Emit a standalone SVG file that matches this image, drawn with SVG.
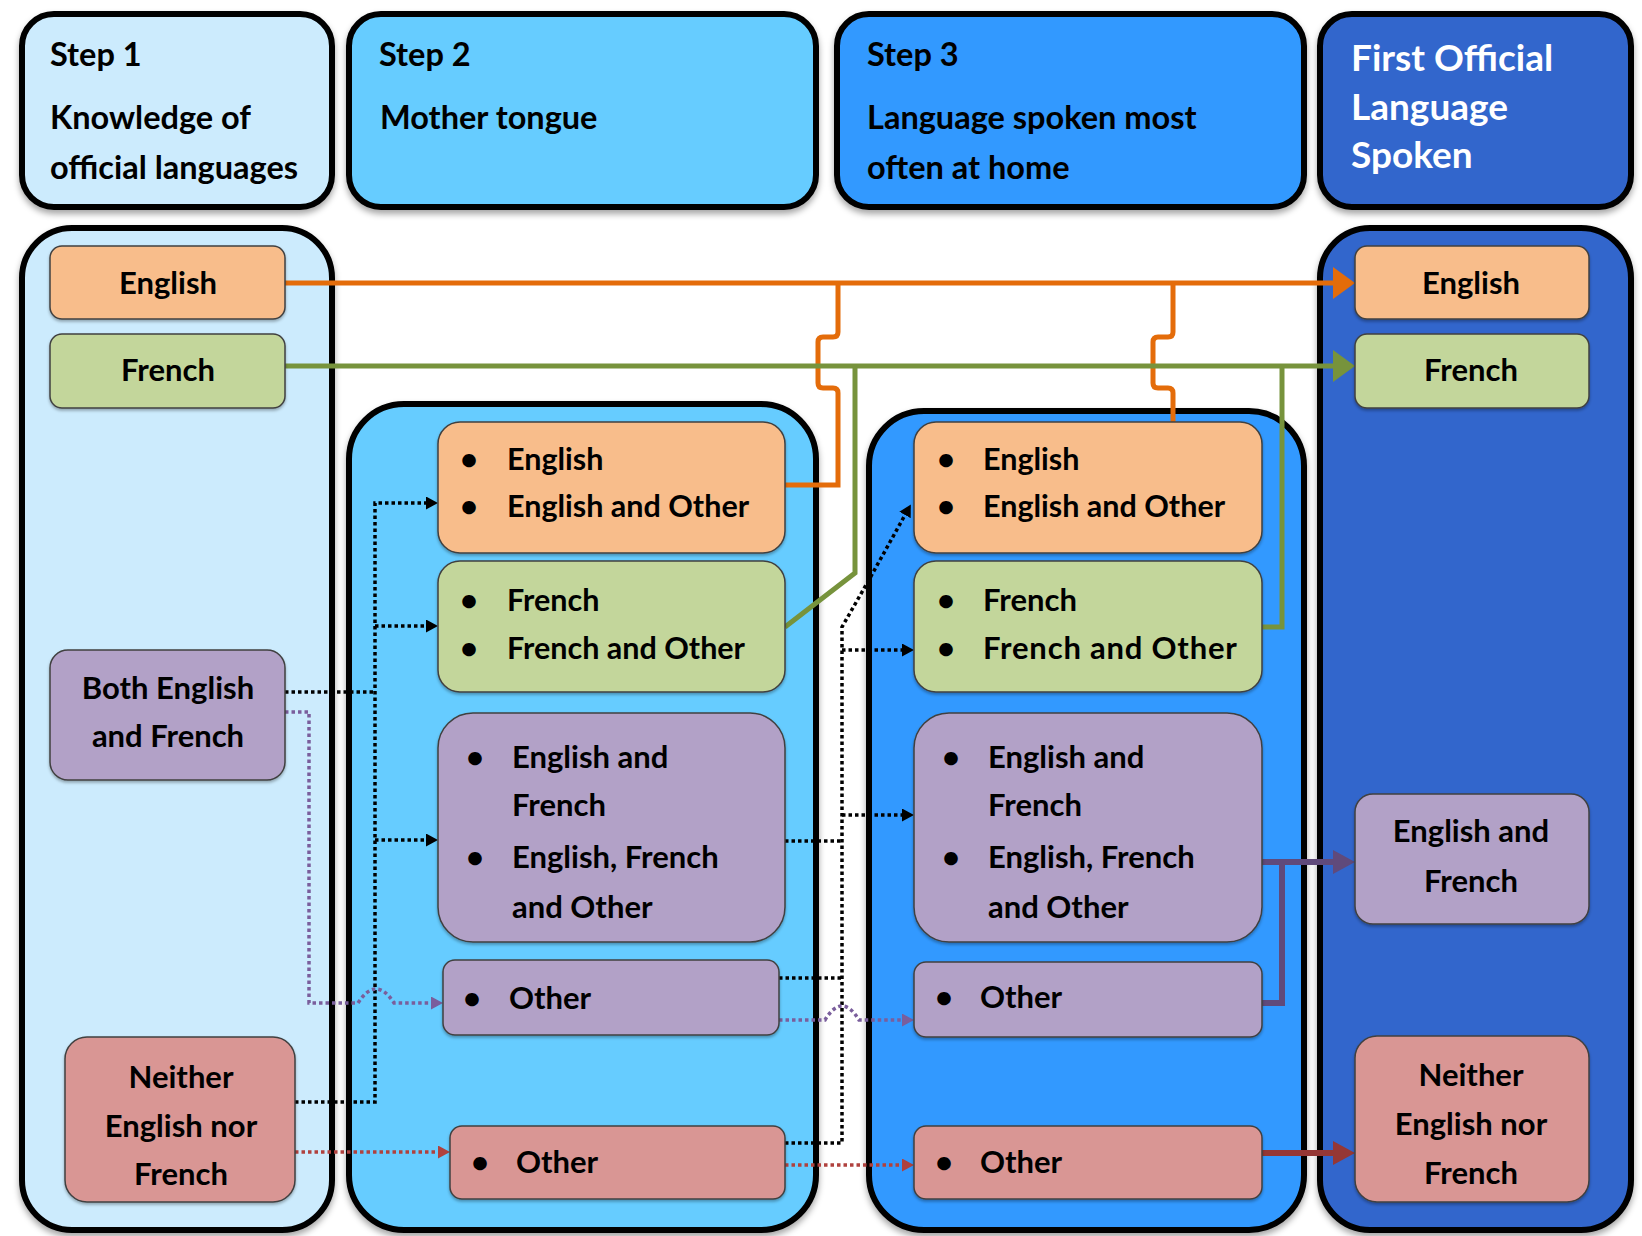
<svg xmlns="http://www.w3.org/2000/svg" width="1642" height="1236" viewBox="0 0 1642 1236">
<style>
.t{font-family:Lato,"Liberation Sans",sans-serif;font-weight:700;font-size:31px;fill:#000}
.b{font-size:30.5px}
.h{font-size:32.5px}
.w{fill:#fff;font-size:37px}
.m{text-anchor:middle}
.hd{stroke:#000;stroke-width:6}
.col{stroke:#000;stroke-width:6}
.nd{stroke:#404040;stroke-width:1.5}
.or{fill:#F8BD8B}.gr{fill:#C3D69B}.pu{fill:#B2A1C7}.rd{fill:#D99694}
.ln{fill:none}
.dot{fill:none;stroke-width:3.5;stroke-dasharray:3.5 3}
</style>
<defs>
<filter id="sh" x="-10%" y="-10%" width="120%" height="120%"><feDropShadow dx="0" dy="4" stdDeviation="3" flood-color="#000" flood-opacity="0.35"/></filter>
<filter id="sh2" x="-10%" y="-10%" width="120%" height="130%"><feDropShadow dx="0" dy="2" stdDeviation="1.5" flood-color="#000" flood-opacity="0.3"/></filter>
<marker id="aO" markerUnits="userSpaceOnUse" markerWidth="22" markerHeight="32" refX="0" refY="16" orient="auto"><path d="M0,0 L22,16 L0,32z" fill="#E46C0A"/></marker>
<marker id="aG" markerUnits="userSpaceOnUse" markerWidth="22" markerHeight="32" refX="0" refY="16" orient="auto"><path d="M0,0 L22,16 L0,32z" fill="#77933C"/></marker>
<marker id="aP" markerUnits="userSpaceOnUse" markerWidth="22" markerHeight="24" refX="0" refY="12" orient="auto"><path d="M0,0 L22,12 L0,24z" fill="#604A7B"/></marker>
<marker id="aR" markerUnits="userSpaceOnUse" markerWidth="22" markerHeight="24" refX="0" refY="12" orient="auto"><path d="M0,0 L22,12 L0,24z" fill="#953735"/></marker>
<marker id="dK" markerUnits="userSpaceOnUse" markerWidth="12" markerHeight="13" refX="0" refY="6.5" orient="auto"><path d="M0,0 L12,6.5 L0,13z" fill="#000"/></marker>
<marker id="dP" markerUnits="userSpaceOnUse" markerWidth="12" markerHeight="13" refX="0" refY="6.5" orient="auto"><path d="M0,0 L12,6.5 L0,13z" fill="#7A5E9C"/></marker>
<marker id="dR" markerUnits="userSpaceOnUse" markerWidth="12" markerHeight="13" refX="0" refY="6.5" orient="auto"><path d="M0,0 L12,6.5 L0,13z" fill="#B0413E"/></marker>
</defs>

<g id="headers">
<g id="h1"><rect class="hd" x="22" y="14" width="310" height="193" rx="32" fill="#CCEBFD" filter="url(#sh)"/>
<text class="t h" x="50" y="66">Step 1</text><text class="t h" x="50" y="129">Knowledge of</text><text class="t h" x="50" y="179">official languages</text></g>
<g id="h2"><rect class="hd" x="349" y="14" width="467" height="193" rx="32" fill="#66CCFF" filter="url(#sh)"/>
<text class="t h" x="379" y="66">Step 2</text><text class="t h" x="380" y="129">Mother tongue</text></g>
<g id="h3"><rect class="hd" x="837" y="14" width="467" height="193" rx="32" fill="#3399FF" filter="url(#sh)"/>
<text class="t h" x="867" y="66">Step 3</text><text class="t h" x="867" y="129">Language spoken most</text><text class="t h" x="867" y="179">often at home</text></g>
<g id="h4"><rect class="hd" x="1320" y="14" width="311" height="193" rx="32" fill="#3366CC" filter="url(#sh)"/>
<text class="t w" x="1351" y="71">First Official</text><text class="t w" x="1351" y="120">Language</text><text class="t w" x="1351" y="168">Spoken</text></g>
</g>

<g id="columns">
<rect id="col1" class="col" x="22" y="228" width="310" height="1002" rx="50" fill="#CCEBFD" filter="url(#sh)"/>
<rect id="col2" class="col" x="349" y="404" width="467" height="826" rx="55" fill="#66CCFF" filter="url(#sh)"/>
<rect id="col3" class="col" x="869" y="411" width="435" height="819" rx="55" fill="#3399FF" filter="url(#sh)"/>
<rect id="col4" class="col" x="1320" y="228" width="311" height="1002" rx="50" fill="#3366CC" filter="url(#sh)"/>
</g>

<g id="connectors">
<path class="ln" d="M285 283 H1333" stroke="#E46C0A" stroke-width="5" marker-end="url(#aO)"/>
<path class="ln" d="M785 485 H838 V393 Q838 388 833 388 H823 Q818 388 818 383 V342 Q818 337 823 337 H833 Q838 337 838 332 V283" stroke="#E46C0A" stroke-width="5"/>
<path class="ln" d="M1173 422 V393 Q1173 388 1168 388 H1158 Q1153 388 1153 383 V342 Q1153 337 1158 337 H1168 Q1173 337 1173 332 V283" stroke="#E46C0A" stroke-width="5"/>
<path class="ln" d="M285 366 H1333" stroke="#77933C" stroke-width="5" marker-end="url(#aG)"/>
<path class="ln" d="M785 627 L855 573 V366" stroke="#77933C" stroke-width="5"/>
<path class="ln" d="M1262 627 H1282 V366" stroke="#77933C" stroke-width="5"/>
<path class="ln" d="M1262 862 H1333" stroke="#604A7B" stroke-width="6" marker-end="url(#aP)"/>
<path class="ln" d="M1262 1003 H1282 V862" stroke="#604A7B" stroke-width="6"/>
<path class="ln" d="M1262 1153 H1333" stroke="#953735" stroke-width="6" marker-end="url(#aR)"/>

<path class="dot" d="M285 692 H375" stroke="#000"/>
<path class="dot" d="M295 1102 H375 V503 H426" stroke="#000" marker-end="url(#dK)"/>
<path class="dot" d="M375 626 H426" stroke="#000" marker-end="url(#dK)"/>
<path class="dot" d="M375 840 H426" stroke="#000" marker-end="url(#dK)"/>
<path class="dot" d="M285 712 H309 V1003 H358 Q376 975 394 1003 H431" stroke="#7A5E9C" marker-end="url(#dP)"/>
<path class="dot" d="M295 1152 H438" stroke="#B0413E" marker-end="url(#dR)"/>

<path class="dot" d="M785 841 H842" stroke="#000"/>
<path class="dot" d="M779 978 H842" stroke="#000"/>
<path class="dot" d="M785 1143 H842 V627 L870 578 L905 515" stroke="#000" marker-end="url(#dK)"/>
<path class="dot" d="M842 650 H902" stroke="#000" marker-end="url(#dK)"/>
<path class="dot" d="M842 815 H902" stroke="#000" marker-end="url(#dK)"/>
<path class="dot" d="M779 1020 H825 Q842 992 859 1020 H902" stroke="#7A5E9C" marker-end="url(#dP)"/>
<path class="dot" d="M785 1165 H902" stroke="#B0413E" marker-end="url(#dR)"/>
</g>

<g id="c1-english"><rect class="nd or" x="50" y="246" width="235" height="73" rx="12" filter="url(#sh2)"/><text class="t m" x="168" y="294">English</text></g>
<g id="c1-french"><rect class="nd gr" x="50" y="334" width="235" height="74" rx="12" filter="url(#sh2)"/><text class="t m" x="168" y="381">French</text></g>
<g id="c1-both"><rect class="nd pu" x="50" y="650" width="235" height="130" rx="18" filter="url(#sh2)"/><text class="t m" x="168" y="699">Both English</text><text class="t m" x="168" y="747">and French</text></g>
<g id="c1-neither"><rect class="nd rd" x="65" y="1037" width="230" height="165" rx="22" filter="url(#sh2)"/><text class="t m" x="181" y="1088">Neither</text><text class="t m" x="181" y="1137">English nor</text><text class="t m" x="181" y="1185">French</text></g>

<g id="c2-english"><rect class="nd or" x="438" y="422" width="347" height="131" rx="22" filter="url(#sh2)"/>
<text class="t m" x="469" y="470">•</text><text class="t b" x="507" y="470">English</text><text class="t m" x="469" y="517">•</text><text class="t b" x="507" y="517">English and Other</text></g>
<g id="c2-french"><rect class="nd gr" x="438" y="561" width="347" height="131" rx="22" filter="url(#sh2)"/>
<text class="t m" x="469" y="611">•</text><text class="t b" x="507" y="611">French</text><text class="t m" x="469" y="659">•</text><text class="t b" x="507" y="659">French and Other</text></g>
<g id="c2-both"><rect class="nd pu" x="438" y="713" width="347" height="229" rx="35" filter="url(#sh2)"/>
<text class="t m" x="475" y="768">•</text><text class="t" x="512" y="768">English and</text><text class="t" x="512" y="816">French</text>
<text class="t m" x="475" y="868">•</text><text class="t" x="512" y="868">English, French</text><text class="t" x="512" y="918">and Other</text></g>
<g id="c2-other-p"><rect class="nd pu" x="443" y="960" width="336" height="75" rx="12" filter="url(#sh2)"/>
<text class="t m" x="472" y="1009">•</text><text class="t" x="509" y="1009">Other</text></g>
<g id="c2-other-r"><rect class="nd rd" x="450" y="1126" width="335" height="73" rx="12" filter="url(#sh2)"/>
<text class="t m" x="480" y="1173">•</text><text class="t" x="516" y="1173">Other</text></g>

<g id="c3-english"><rect class="nd or" x="914" y="422" width="348" height="131" rx="22" filter="url(#sh2)"/>
<text class="t m" x="946" y="470">•</text><text class="t b" x="983" y="470">English</text><text class="t m" x="946" y="517">•</text><text class="t b" x="983" y="517">English and Other</text></g>
<g id="c3-french"><rect class="nd gr" x="914" y="561" width="348" height="131" rx="22" filter="url(#sh2)"/>
<text class="t m" x="946" y="611">•</text><text class="t" x="983" y="611">French</text><text class="t m" x="946" y="659">•</text><text class="t" x="983" y="659" letter-spacing="0.8">French and Other</text></g>
<g id="c3-both"><rect class="nd pu" x="914" y="713" width="348" height="229" rx="35" filter="url(#sh2)"/>
<text class="t m" x="951" y="768">•</text><text class="t" x="988" y="768">English and</text><text class="t" x="988" y="816">French</text>
<text class="t m" x="951" y="868">•</text><text class="t" x="988" y="868">English, French</text><text class="t" x="988" y="918">and Other</text></g>
<g id="c3-other-p"><rect class="nd pu" x="914" y="962" width="348" height="75" rx="12" filter="url(#sh2)"/>
<text class="t m" x="944" y="1008">•</text><text class="t" x="980" y="1008">Other</text></g>
<g id="c3-other-r"><rect class="nd rd" x="914" y="1126" width="348" height="73" rx="12" filter="url(#sh2)"/>
<text class="t m" x="944" y="1173">•</text><text class="t" x="980" y="1173">Other</text></g>

<g id="c4-english"><rect class="nd or" x="1355" y="246" width="234" height="73" rx="12" filter="url(#sh2)"/><text class="t m" x="1471" y="294">English</text></g>
<g id="c4-french"><rect class="nd gr" x="1355" y="334" width="234" height="74" rx="12" filter="url(#sh2)"/><text class="t m" x="1471" y="381">French</text></g>
<g id="c4-both"><rect class="nd pu" x="1355" y="794" width="234" height="130" rx="18" filter="url(#sh2)"/><text class="t m" x="1471" y="842">English and</text><text class="t m" x="1471" y="892">French</text></g>
<g id="c4-neither"><rect class="nd rd" x="1355" y="1036" width="234" height="166" rx="22" filter="url(#sh2)"/><text class="t m" x="1471" y="1086">Neither</text><text class="t m" x="1471" y="1135">English nor</text><text class="t m" x="1471" y="1184">French</text></g>
</svg>
